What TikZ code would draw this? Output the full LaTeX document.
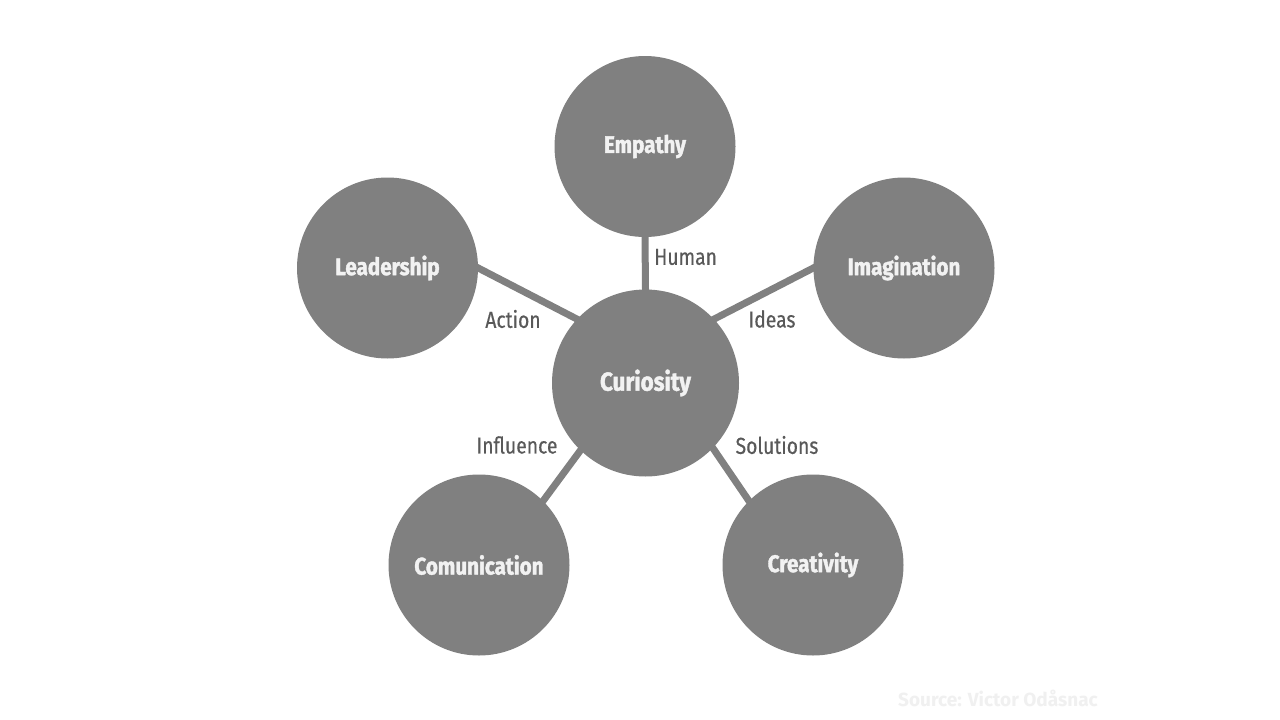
\documentclass[tikz,border=0pt]{standalone}
\usepackage{fontspec}
\setmainfont{Fira Sans}
\newfontfamily\labfont{Fira Sans}[FakeStretch=0.84,FakeBold=0.4]
\newfontfamily\circfont{Fira Sans}[FakeStretch=0.86,BoldFeatures={FakeBold=1.6}]
\pgfdeclarelayer{bg}
\pgfdeclarelayer{paper}
\pgfsetlayers{paper,bg,main}
\begin{document}
\begin{tikzpicture}[x=1pt,y=-1pt,
  bubble/.style={circle,fill=circgray,draw=none,minimum size=181pt,inner sep=0pt,
    text=nodetext,font=\circfont\bfseries\fontsize{24}{28}\selectfont},
  hub/.style={bubble,minimum size=187pt,font=\circfont\bfseries\fontsize{26}{30}\selectfont},
  link/.style={draw=circgray,line width=7pt,shorten <=-6pt,shorten >=-6pt},
  lbl/.style={text=labgray,font=\labfont\fontsize{23}{27}\selectfont,inner sep=0pt}]
\definecolor{circgray}{HTML}{808080}
\definecolor{nodetext}{HTML}{F2F2F2}
\definecolor{labgray}{HTML}{595959}
\definecolor{srcgray}{HTML}{F0F0F0}
\begin{pgfonlayer}{paper}
\fill[white] (0,0) rectangle (1280,720);
\end{pgfonlayer}
\useasboundingbox (0,0) rectangle (1280,720);
\node[hub] (cur) at (645.5,383) {Curiosity};
\node[bubble] (emp) at (645,146.5) {Empathy};
\node[bubble] (lea) at (387.5,268) {Leadership};
\node[bubble] (ima) at (904,268) {Imagination};
\node[bubble] (com) at (479,565) {Comunication};
\node[bubble] (cre) at (813,565) {Creativity};
\begin{pgfonlayer}{bg}
\draw[link] (emp.270) -- (cur.90);
\draw[link] (lea.0) -- (cur.137);
\draw[link] (ima.180) -- (cur.43);
\draw[link] (com.45) -- (cur.226);
\draw[link] (cre.135) -- (cur.316);
\end{pgfonlayer}
\node[lbl,anchor=west] (hum) at (654,257) {Human};
\node[lbl] (act) at (513,319) {Action};
\node[lbl] (ide) at (772,319) {Ideas};
\node[lbl] (inf) at (517,445) {Influence};
\node[lbl] (sol) at (777,445) {Solutions};
\node[text=srcgray,font=\fontsize{19}{22}\selectfont\bfseries,anchor=west,inner sep=0pt] (src) at (898,698) {Source: Victor Odåsnac};
\end{tikzpicture}
\end{document}
